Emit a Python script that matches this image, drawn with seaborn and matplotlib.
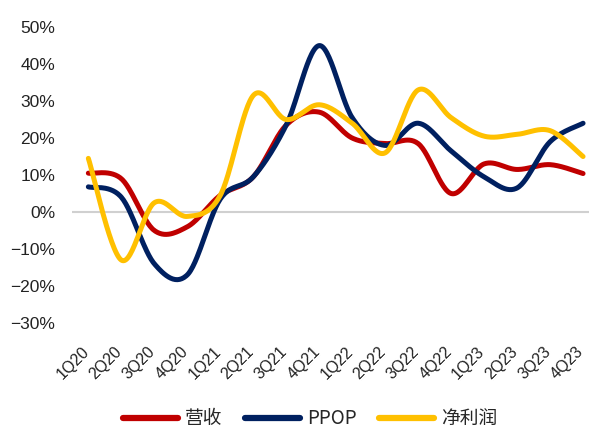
import numpy as np
import pandas as pd
import matplotlib
matplotlib.use("Agg")
import matplotlib.pyplot as plt
import matplotlib.transforms as mtransforms
import seaborn as sns

quarters = ["1Q20", "2Q20", "3Q20", "4Q20", "1Q21", "2Q21", "3Q21", "4Q21",
            "1Q22", "2Q22", "3Q22", "4Q22", "1Q23", "2Q23", "3Q23", "4Q23"]
revenue = [10.5, 9.0, -5.0, -4.0, 4.5, 9.5, 23.5, 27.0, 20.0, 18.5, 18.5, 5.0, 13.0, 11.5, 12.8, 10.4]
ppop = [6.8, 4.0, -14.0, -17.0, 3.5, 9.5, 23.5, 45.0, 25.5, 18.0, 24.0, 16.5, 9.5, 6.5, 19.0, 24.0]
net_profit = [14.5, -13.0, 2.5, -1.2, 4.5, 31.5, 25.0, 29.0, 24.0, 16.0, 33.0, 25.5, 20.5, 21.0, 22.0, 15.0]

series_names = ["营收", "PPOP", "净利润"]
series_values = [revenue, ppop, net_profit]
colors = ["#C00000", "#002060", "#FFC000"]


def smooth(xs, ys, n=30):
    # Excel-style smoothed line (Catmull-Rom through the data points)
    xs = np.asarray(xs, float)
    ys = np.asarray(ys, float)
    px = np.concatenate([[xs[0]], xs, [xs[-1]]])
    py = np.concatenate([[ys[0]], ys, [ys[-1]]])
    ox, oy = [], []
    for i in range(1, len(px) - 2):
        p0, p1, p2, p3 = (np.array([px[j], py[j]]) for j in (i - 1, i, i + 1, i + 2))
        c1 = p1 + (p2 - p0) / 6.0
        c2 = p2 - (p3 - p1) / 6.0
        t = np.linspace(0, 1, n, endpoint=(i == len(px) - 3))[:, None]
        b = ((1 - t) ** 3) * p1 + 3 * ((1 - t) ** 2) * t * c1 + 3 * (1 - t) * t ** 2 * c2 + t ** 3 * p2
        ox.extend(b[:, 0]); oy.extend(b[:, 1])
    return np.array(ox), np.array(oy)


rows = []
idx = np.arange(len(quarters))
for name, vals in zip(series_names, series_values):
    sx, sy = smooth(idx, vals)
    for a, b in zip(sx, sy):
        rows.append({"x": a, "y": b, "series": name})
df = pd.DataFrame(rows)

sns.set_theme(style="white")
plt.rcParams["font.family"] = ["Liberation Sans", "Noto Sans CJK SC", "DejaVu Sans"]
plt.rcParams["axes.unicode_minus"] = True

fig = plt.figure(figsize=(5.89, 4.30), dpi=100)
ax = fig.add_axes([0.122, 0.249, 0.878, 0.688])

sns.lineplot(data=df, x="x", y="y", hue="series", hue_order=series_names,
             palette=colors, sort=False, estimator=None, linewidth=3.6,
             ax=ax, legend=True, solid_capstyle="round")
for ln in ax.get_lines():
    ln.set_clip_on(False)

ax.axhline(0, color="#D0D0D0", linewidth=1.5, zorder=0)
ax.set_xlim(-0.5, 15.18)
ax.set_ylim(-30, 50)
ax.set_yticks(range(-30, 51, 10))
ax.set_yticklabels([f"{v}%".replace("-", "\u2212") for v in range(-30, 51, 10)], fontsize=12.5, color="#222222")
ax.set_xticks(idx)
ax.set_xticklabels(quarters, rotation=45, ha="right", rotation_mode="anchor", fontsize=11.5, color="#222222")
ax.tick_params(axis="x", pad=15, length=0)
ax.tick_params(axis="y", pad=12, length=0)
shift = mtransforms.ScaledTranslation(-7 / 100, 0, fig.dpi_scale_trans)
for lbl in ax.get_xticklabels():
    lbl.set_transform(lbl.get_transform() + shift)
for s in ax.spines.values():
    s.set_visible(False)
ax.set_xlabel("")
ax.set_ylabel("")
ax.grid(False)

handles, labels = ax.get_legend_handles_labels()
ax.get_legend().remove()
for h in handles:
    h.set_linewidth(4.5)
fig.legend(handles, labels, loc="center", bbox_to_anchor=(0.527, 0.026), ncol=3, frameon=False,
           handlelength=2.9, handletextpad=0.4, columnspacing=1.2,
           prop={"family": ["Noto Sans CJK SC", "DejaVu Sans"], "size": 13.5})

fig.savefig("out.png", dpi=100)
